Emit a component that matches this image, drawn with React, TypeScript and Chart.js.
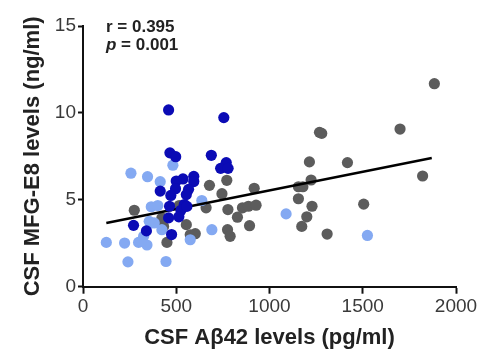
import { useEffect, useRef } from 'react';
import { Chart, registerables } from 'chart.js';

Chart.register(...registerables);

// Dark blue group
const darkX = [459, 755, 466, 497, 688, 768, 738, 778, 594, 594, 536, 500, 496, 566, 414, 471, 554, 543, 464, 525, 557, 514, 459, 271, 340, 475];
const darkY = [10.17, 9.73, 7.70, 7.48, 7.56, 7.14, 6.81, 6.81, 6.35, 6.05, 6.20, 6.08, 5.64, 5.60, 5.50, 5.25, 5.30, 4.73, 4.63, 4.40, 4.62, 4.02, 3.96, 3.53, 3.21, 3.00];

// Light blue group
const lightX = [125, 223, 241, 257, 346, 414, 482, 298, 325, 343, 361, 366, 401, 355, 382, 423, 445, 575, 637, 691, 1089, 1525, 314];
const lightY = [2.55, 2.51, 1.43, 6.53, 6.33, 6.04, 6.99, 2.55, 2.90, 2.40, 3.67, 4.60, 4.67, 3.76, 3.67, 3.28, 1.45, 2.70, 4.96, 3.28, 4.19, 2.95, 2.62];

// Gray group
const grayX = [275, 423, 432, 450, 516, 554, 575, 602, 660, 678, 745, 771, 777, 828, 855, 887, 918, 928, 893, 775, 789, 1268, 1280, 1214, 1418, 1223, 1155, 1179, 1155, 1228, 1200, 1173, 1309, 1505, 1700, 1884, 1821];
const grayY = [4.40, 3.96, 3.47, 2.55, 4.67, 3.57, 2.99, 3.05, 4.54, 5.83, 5.35, 6.12, 4.44, 4.00, 4.54, 4.63, 5.66, 4.69, 3.51, 3.28, 2.90, 8.88, 8.82, 7.18, 7.14, 6.14, 5.75, 5.75, 5.06, 4.63, 4.02, 3.47, 3.03, 4.75, 9.07, 11.68, 6.37];

// Regression line end points
const fitX = [125, 1870];
const fitY = [3.67, 7.40];

const xTicks = [0, 500, 1000, 1500, 2000];
const yTicks = [0, 5, 10, 15];

const rText = 'r = 0.395';
const pText = ' = 0.001';
const xTitle = 'CSF A\u03b242 levels (pg/ml)';
const yTitle = 'CSF MFG-E8 levels (ng/ml)';

const FAMILY = '"Liberation Sans", Arial, Helvetica, sans-serif';

export default function App() {
  const ref = useRef<HTMLCanvasElement>(null);

  useEffect(() => {
    if (!ref.current) return;
    const pts = (xs: number[], ys: number[]) => xs.map((x, i) => ({ x, y: ys[i] }));

    const annot = {
      id: 'annot',
      afterDraw(chart: any) {
        const { ctx, chartArea } = chart;
        const x0 = chartArea.left + 23;
        ctx.save();
        ctx.fillStyle = '#222';
        ctx.textBaseline = 'alphabetic';
        ctx.textAlign = 'left';
        ctx.font = `bold 17px ${FAMILY}`;
        ctx.fillText(rText, x0, chartArea.top + 5.5);
        ctx.font = `italic bold 17px ${FAMILY}`;
        ctx.fillText('p', x0, chartArea.top + 24);
        const w = ctx.measureText('p').width;
        ctx.font = `bold 17px ${FAMILY}`;
        ctx.fillText(pText, x0 + w, chartArea.top + 24);
        ctx.restore();
      },
    };

    const chart = new Chart(ref.current, {
      type: 'scatter',
      data: {
        datasets: [
          {
            label: 'dark',
            data: pts(darkX, darkY),
            backgroundColor: '#0b0bb5',
            borderWidth: 0,
            pointRadius: 5.6,
            order: 1,
          },
          {
            label: 'fit',
            type: 'line',
            data: pts(fitX, fitY),
            borderColor: '#000',
            borderWidth: 2.5,
            pointRadius: 0,
            showLine: true,
            fill: false,
            order: 2,
          } as any,
          {
            label: 'light',
            data: pts(lightX, lightY),
            backgroundColor: '#84a9f2',
            borderWidth: 0,
            pointRadius: 5.6,
            order: 3,
          },
          {
            label: 'gray',
            data: pts(grayX, grayY),
            backgroundColor: '#5c5c5c',
            borderWidth: 0,
            pointRadius: 5.6,
            order: 4,
          },
        ],
      },
      options: {
        responsive: false,
        devicePixelRatio: 1,
        animation: false,
        layout: { padding: { top: 26, right: 31, left: 0, bottom: 0 } },
        plugins: { legend: { display: false }, tooltip: { enabled: false } },
        scales: {
          x: {
            type: 'linear',
            min: 0,
            max: 2000,
            afterBuildTicks(s: any) { s.ticks = xTicks.map((v) => ({ value: v })); },
            afterFit(s: any) { s.height = 74.3; },
            ticks: {
              font: { size: 19, family: FAMILY },
              color: '#3a3a3a',
              padding: 2,
              callback: (v: any) => String(v),
            },
            grid: { display: true, drawOnChartArea: false, drawTicks: true, tickLength: 7, tickWidth: 2, tickColor: '#111' },
            border: { display: true, color: '#111', width: 2 },
            title: {
              display: true,
              text: xTitle,
              color: '#222',
              font: { size: 22, weight: 'bold', family: FAMILY },
              padding: { top: 0, bottom: 10 },
            },
          },
          y: {
            type: 'linear',
            min: 0,
            max: 15,
            afterBuildTicks(s: any) { s.ticks = yTicks.map((v) => ({ value: v })); },
            afterFit(s: any) { s.width = 83; },
            ticks: {
              font: { size: 19, family: FAMILY },
              color: '#3a3a3a',
              padding: 2,
              callback: (v: any) => String(v),
            },
            grid: { display: true, drawOnChartArea: false, drawTicks: true, tickLength: 5, tickWidth: 2, tickColor: '#111' },
            border: { display: true, color: '#111', width: 2 },
            title: {
              display: true,
              text: yTitle,
              color: '#222',
              font: { size: 22, weight: 'bold', family: FAMILY },
              padding: { top: 20, bottom: 0 },
            },
          },
        },
      },
      plugins: [annot],
    });

    return () => chart.destroy();
  }, []);

  return (
    <div style={{ position: 'absolute', left: 0, top: 0, width: 487, height: 361, background: '#fff' }}>
      <canvas ref={ref} width={487} height={361} style={{ display: 'block' }} />
    </div>
  );
}
